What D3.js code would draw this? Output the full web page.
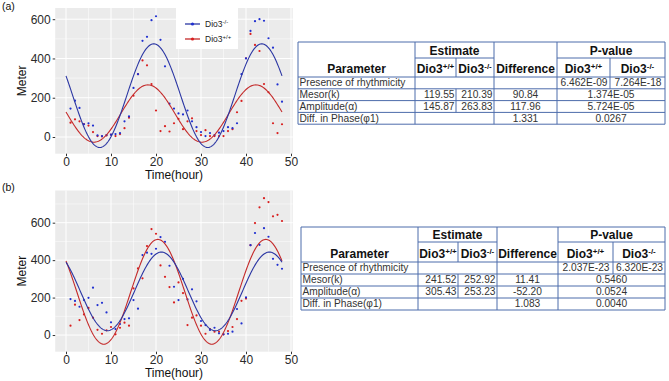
<!DOCTYPE html>
<html><head><meta charset="utf-8">
<script src="https://cdn.jsdelivr.net/npm/d3@7"></script>
<style>body{margin:0;background:#fff} svg{display:block}</style>
</head><body>
<svg id="c" width="669" height="381"></svg>
<script>
// ---------- data ----------
const hours = [1,2,3,4,5,6,7,8,9,10,11,12,13,14,15,16,17,18,19,20,21,22,23,24,25,26,27,28,29,30,31,32,33,34,35,36,37,38,39,40,41,42,43,44,45,46,47,48];
// panel (a)
const koA = [145,185,148,65,70,58,8,5,10,12,15,20,80,105,250,320,490,510,595,615,495,360,170,145,120,115,135,80,50,25,5,20,10,22,30,50,45,70,320,400,540,590,600,592,503,455,268,180];
const wtA = [73,90,80,66,58,25,5,3,8,12,5,15,45,98,210,320,390,365,270,135,30,55,28,70,92,40,80,95,30,10,35,5,5,5,5,30,40,126,184,401,525,469,438,270,228,70,20,65];
// panel (b)
const koB = [192,182,151,187,199,253,160,172,121,68,32,59,85,89,187,141,427,440,434,461,523,498,370,258,187,300,190,244,180,75,53,27,39,9,4,7,18,139,62,201,480,545,482,571,525,407,375,354];
const wtB = [50,162,80,110,145,93,28,7,25,43,4,39,66,50,249,356,303,475,566,541,372,311,256,174,281,224,53,93,105,50,7,32,18,18,4,21,43,85,183,195,480,598,682,731,710,634,642,609];
// cosinor fit parameters [Dio3-/-, Dio3+/+]
const fitMesorA = [210.39, 119.55];
const fitAmpA = [263.83, 145.87];
const fitPeakA = [19.5, 18.2];
const fitMesorB = [233, 231];
const fitAmpB = [210, 280];
const fitPeakB = [21.2, 20.4];
const fitPeriod = 24;

const xTicks = [0,10,20,30,40,50];
const xMinor = [5,15,25,35,45];
const yTicks = [0,200,400,600];

// tables
const paramNames = ["Presence of rhythmicity","Mesor(k)","Amplitude(\u03b1)","Diff. in Phase(\u03c61)"];
const estA = [[],["119.55","210.39"],["145.87","263.83"],[]];
const diffA = ["","90.84","117.96","1.331"];
const pvalA = [["6.462E-09","7.264E-18"],["1.374E-05"],["5.724E-05"],["0.0267"]];
const estB = [[],["241.52","252.92"],["305.43","253.23"],[]];
const diffB = ["","11.41","-52.20","1.083"];
const pvalB = [["2.037E-23","6.320E-23"],["0.5460"],["0.0524"],["0.0040"]];

// ---------- drawing ----------
const svg = d3.select("#c");
const FONT = "'Liberation Sans', Arial, sans-serif";
const BLUE_L = "#2b36a3", BLUE_P = "#1f2fd0";
const RED_L = "#c42a2a", RED_P = "#d91e1e";

function cosinor(t, m, a, p){ return m + a*Math.cos(2*Math.PI*(t-p)/fitPeriod); }

function panel(cfg){
  const g = svg.append("g");
  const x = d3.scaleLinear().domain([-2.4,50.4]).range([55.2,292.8]);
  const y = d3.scaleLinear().domain(cfg.yDomain).range([cfg.bottom, cfg.top]);
  g.append("rect").attr("x",x.range()[0]).attr("y",cfg.top)
    .attr("width",x.range()[1]-x.range()[0]).attr("height",cfg.bottom-cfg.top).attr("fill","#EBEBEB");
  xMinor.forEach(v=>g.append("line").attr("x1",x(v)).attr("x2",x(v)).attr("y1",cfg.top).attr("y2",cfg.bottom).attr("stroke","#fff").attr("stroke-width",0.5));
  cfg.yMinor.forEach(v=>g.append("line").attr("y1",y(v)).attr("y2",y(v)).attr("x1",x.range()[0]).attr("x2",x.range()[1]).attr("stroke","#fff").attr("stroke-width",0.5));
  xTicks.forEach(v=>g.append("line").attr("x1",x(v)).attr("x2",x(v)).attr("y1",cfg.top).attr("y2",cfg.bottom).attr("stroke","#fff").attr("stroke-width",1));
  yTicks.forEach(v=>g.append("line").attr("y1",y(v)).attr("y2",y(v)).attr("x1",x.range()[0]).attr("x2",x.range()[1]).attr("stroke","#fff").attr("stroke-width",1));

  const ay = g.append("g").attr("transform",`translate(${x.range()[0]},0)`)
    .call(d3.axisLeft(y).tickValues(yTicks).tickSize(2.5).tickPadding(2).tickFormat(d3.format("d")));
  const ax = g.append("g").attr("transform",`translate(0,${cfg.bottom})`)
    .call(d3.axisBottom(x).tickValues(xTicks).tickSize(2.5).tickPadding(0.8).tickFormat(d3.format("d")));
  [ax,ay].forEach(a=>{
    a.select(".domain").remove();
    a.selectAll(".tick line").attr("stroke","#333");
    a.selectAll(".tick text").attr("fill","#2a2a2a").style("font-family",FONT).style("font-size","12px");
  });
  g.append("text").attr("x",(x.range()[0]+x.range()[1])/2).attr("y",cfg.bottom+25)
    .attr("text-anchor","middle").style("font-family",FONT).style("font-size","12px").attr("fill","#111").text("Time(hour)");
  g.append("text").attr("transform",`translate(26,${(cfg.top+cfg.bottom)/2}) rotate(-90)`)
    .attr("text-anchor","middle").style("font-family",FONT).style("font-size","12px").attr("fill","#111").text("Meter");

  const series = [
    {vals: cfg.wt, col: RED_P},
    {vals: cfg.ko, col: BLUE_P}
  ];
  series.forEach(s=>{
    g.append("g").selectAll("circle").data(hours).join("circle")
      .attr("cx",(d)=>x(d)).attr("cy",(d,i)=>y(s.vals[i])).attr("r",1.1).attr("fill",s.col);
  });
  const tGrid = d3.range(0, 48.001, 0.2);
  const line = d3.line().x(d=>x(d[0])).y(d=>y(d[1]));
  [[1,RED_L],[0,BLUE_L]].forEach(([k,col])=>{
    const pts = tGrid.map(t=>[t, cosinor(t, cfg.mesor[k], cfg.amp[k], cfg.peak[k])]);
    g.append("path").attr("d",line(pts)).attr("fill","none").attr("stroke",col).attr("stroke-width",1.1);
  });
  g.append("text").attr("x",2).attr("y",cfg.labelY).style("font-family",FONT).style("font-size","10.5px").attr("fill","#111").text(cfg.label);
  return g;
}

panel({label:"(a)", labelY:10, top:8, bottom:153.7, yDomain:[-85,657], yMinor:[100,300,500],
  ko:koA, wt:wtA, mesor:fitMesorA, amp:fitAmpA, peak:fitPeakA});
panel({label:"(b)", labelY:191, top:190.5, bottom:351.7, yDomain:[-89,772], yMinor:[100,300,500,700],
  ko:koB, wt:wtB, mesor:fitMesorB, amp:fitAmpB, peak:fitPeakB});

// legend in (a)
(function(){
  const lg = svg.append("g");
  lg.append("rect").attr("x",176).attr("y",8).attr("width",62).attr("height",41).attr("fill","#fff");
  const items = [{c:BLUE_L,p:BLUE_P,sup:"-/-",y:24},{c:RED_L,p:RED_P,sup:"+/+",y:39}];
  items.forEach(it=>{
    lg.append("line").attr("x1",185).attr("x2",200).attr("y1",it.y).attr("y2",it.y).attr("stroke",it.c).attr("stroke-width",1.3);
    lg.append("circle").attr("cx",192.5).attr("cy",it.y).attr("r",1.6).attr("fill",it.p);
    const t = lg.append("text").attr("x",205).attr("y",it.y+3).style("font-family",FONT).style("font-size","8.5px").attr("fill","#222");
    t.append("tspan").text("Dio3");
    t.append("tspan").attr("dy",-3).style("font-size","6px").text(it.sup);
  });
})();

// tables
function table(cfg){
  const g = svg.append("g");
  const C = cfg.cols, R = cfg.rows; // R: [top, mid, headBottom, r1, r2, r3, r4]
  const last = R[R.length-1];
  const BC = "#4d6cab";
  const ln = (x1,y1,x2,y2)=>g.append("line").attr("x1",x1).attr("y1",y1).attr("x2",x2).attr("y2",y2).attr("stroke",BC).attr("stroke-width",1);
  ln(C[0],R[0],C[6],R[0]);
  ln(C[0],last,C[6],last);
  ln(C[0],R[0],C[0],last);
  ln(C[6],R[0],C[6],last);
  ln(C[1],R[1],C[3],R[1]); ln(C[4],R[1],C[6],R[1]);
  for(let i=2;i<R.length-1;i++) ln(C[0],R[i],C[6],R[i]);
  [1,3,4].forEach(k=>ln(C[k],R[0],C[k],last));
  ln(C[2],R[1],C[2],R[2]); ln(C[5],R[1],C[5],R[2]);
  ln(C[2],R[3],C[2],R[5]);   // Mesor & Amplitude estimate split
  ln(C[5],R[2],C[5],R[3]);   // Presence p-value split

  const txt = (x,y,s,anchor,bold)=>g.append("text").attr("x",x).attr("y",y).attr("text-anchor",anchor)
    .style("font-family",FONT).style("font-size",bold?"12px":"10.2px").style("font-weight",bold?"bold":"normal")
    .attr("fill",bold?"#111":"#333").text(s);
  const sup = (x,y,s)=>{
    const t = g.append("text").attr("x",x).attr("y",y).attr("text-anchor","middle")
      .style("font-family",FONT).style("font-size","12px").style("font-weight","bold").attr("fill","#111");
    t.append("tspan").text("Dio3");
    t.append("tspan").attr("dy",-4).style("font-size","8px").text(s);
  };
  const hb = R[2]-4.5, tb = R[1]-3.5;
  txt((C[1]+C[3])/2, tb, "Estimate","middle",true);
  txt((C[4]+C[6])/2, tb, "P-value","middle",true);
  txt((C[0]+C[1])/2, hb, "Parameter","middle",true);
  txt((C[3]+C[4])/2, hb, "Difference","middle",true);
  sup((C[1]+C[2])/2, hb, "+/+"); sup((C[2]+C[3])/2, hb, "-/-");
  sup((C[4]+C[5])/2, hb, "+/+"); sup((C[5]+C[6])/2, hb, "-/-");

  paramNames.forEach((p,i)=>{
    const yb = R[3+i]-2.6;
    txt(C[0]+1.5, yb, p, "start", false);
    const e = cfg.est[i];
    if(e.length===2){ txt(C[2]-1.5, yb, e[0], "end", false); txt(C[3]-1.5, yb, e[1], "end", false); }
    txt((C[3]+C[4])/2, yb, cfg.diff[i], "middle", false);
    const pv = cfg.pval[i];
    if(pv.length===2){ txt((C[4]+C[5])/2+0.5, yb, pv[0], "middle", false); txt((C[5]+C[6])/2+0.5, yb, pv[1], "middle", false); }
    else txt((C[4]+C[6])/2, yb, pv[0], "middle", false);
  });
}

table({cols:[298,415,456,494,557,610,665], rows:[42,58,77,88.8,100.6,112.4,124.2], est:estA, diff:diffA, pval:pvalA});
table({cols:[301,418,458,497,558,613,665], rows:[227,242,262,274,286,298,310], est:estB, diff:diffB, pval:pvalB});
</script>
</body></html>
